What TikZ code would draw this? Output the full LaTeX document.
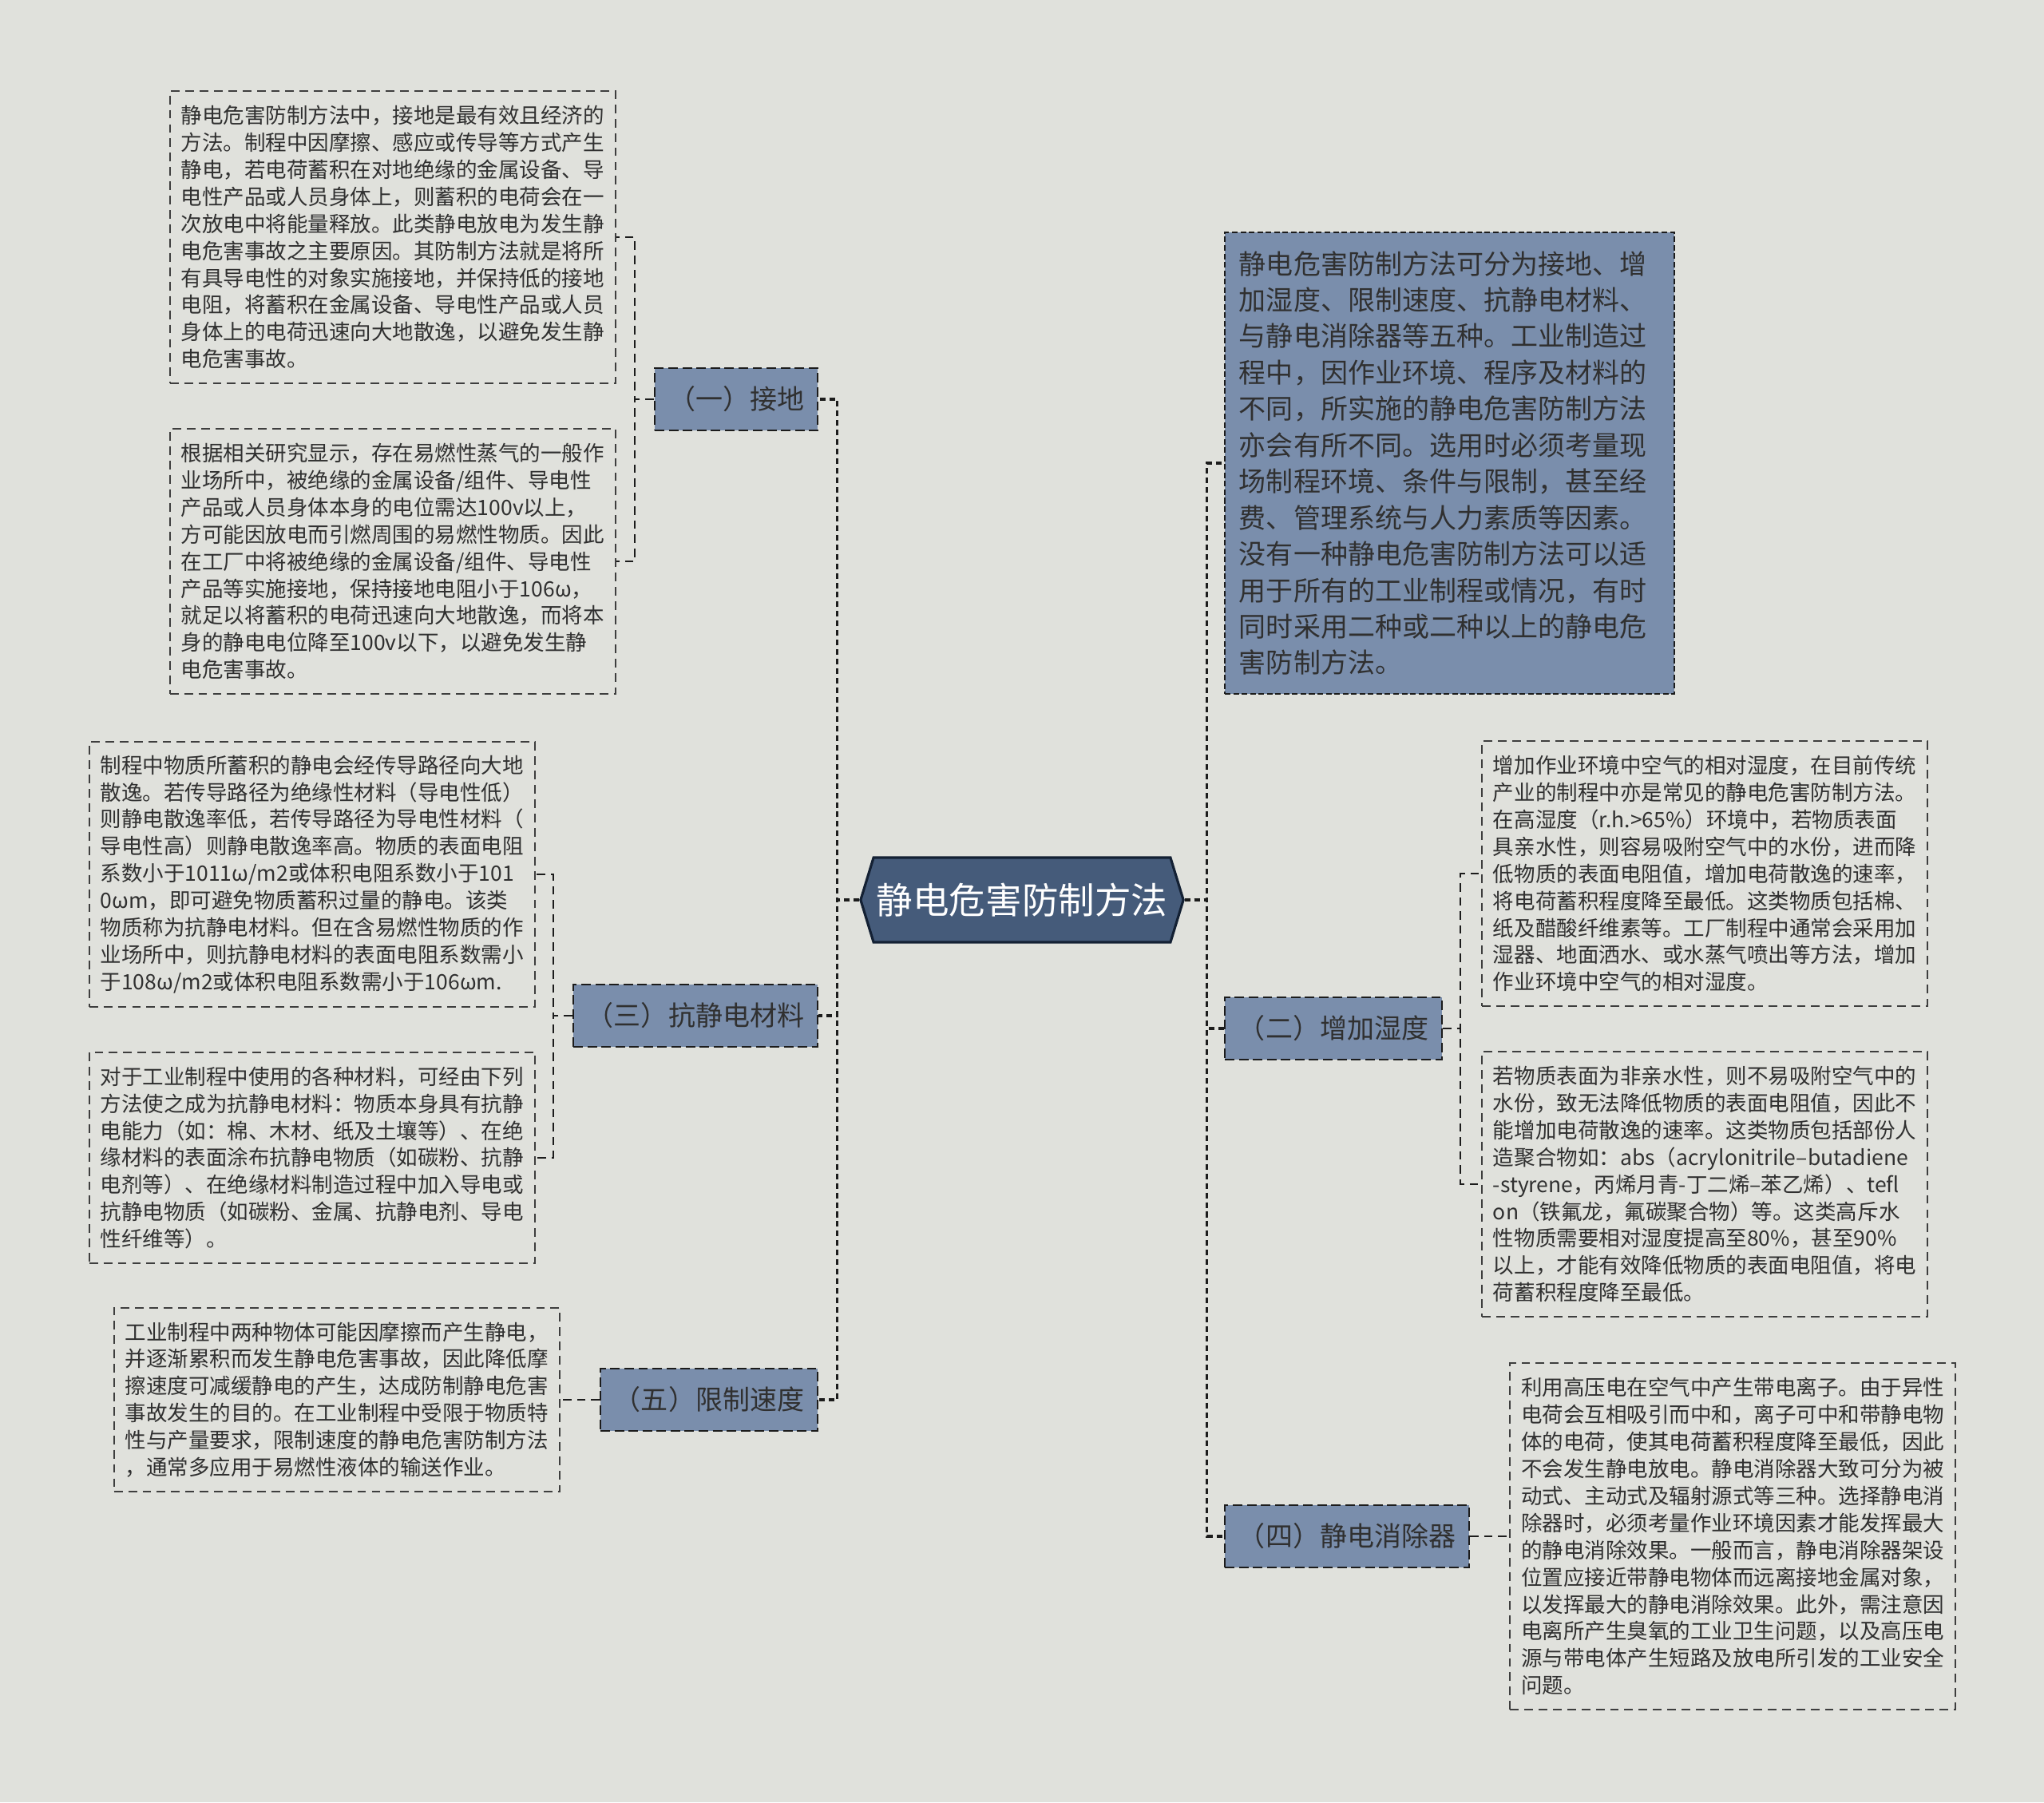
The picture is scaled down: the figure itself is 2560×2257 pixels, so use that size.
\documentclass[tikz,border=0pt]{standalone}
\usepackage{fontspec}
\newfontfamily\cjk{Noto Sans CJK SC}
\usetikzlibrary{positioning, shapes.symbols}

\definecolor{bgcol}{RGB}{224,225,220}
\definecolor{subfill}{RGB}{122,142,172}
\definecolor{rootfill}{RGB}{69,91,122}
\definecolor{rootline}{RGB}{20,33,52}
\definecolor{inkcol}{RGB}{28,28,28}
\definecolor{txtcol}{RGB}{48,48,48}
\hyphenpenalty=10000
\exhyphenpenalty=10000

\begin{document}
\begin{tikzpicture}[x=0.01cm, y=-0.01cm,
    rootnode/.style={signal, signal to=east and west, signal pointer angle=146,
      fill=rootfill, draw=rootline, line width=0.9pt, text=white,
      minimum width=4.04cm, minimum height=1.06cm, inner sep=0pt,
      font=\cjk\fontsize{12.95}{15}\selectfont},
    sub/.style={fill=subfill, draw=inkcol, line width=0.55pt, dash pattern=on 3.4pt off 1.6pt,
      text=txtcol, minimum height=0.78cm, inner xsep=0.17cm,
      font=\cjk\fontsize{9.67}{12}\selectfont},
    summary/.style={sub, text width=5.27cm, inner xsep=0.18cm, align=left,
      dash pattern=on 2pt off 1pt, font=\cjk\fontsize{9.67}{12.92}\selectfont},
    leaf/.style={draw=inkcol!85, line width=0.55pt, dash pattern=on 3.1pt off 2pt,
      text=txtcol, text width=5.30cm, inner xsep=0.14cm, align=left,
      font=\cjk\fontsize{7.54}{9.65}\selectfont},
    trunk/.style={draw=inkcol, line width=0.95pt, dash pattern=on 2pt off 1.4pt},
    twig/.style={draw=inkcol, line width=0.55pt, dash pattern=on 3pt off 2pt}]

  \fill[bgcol] (0,0) rectangle (2560,2257);

  \node[rootnode] (root) at (1280,1127) {静电危害防制方法};

  % left side
  \node[sub, anchor=east] (c1) at (1025,500) {（一）接地};
  \node[sub, anchor=east] (c3) at (1025,1272) {（三）抗静电材料};
  \node[sub, anchor=east] (c5) at (1025,1753) {（五）限制速度};

  % right side
  \node[summary, anchor=west, minimum height=5.77cm] (c0) at (1533,580) {静电危害防制方法可分为接地、增\\加湿度、限制速度、抗静电材料、\\与静电消除器等五种。工业制造过\\程中，因作业环境、程序及材料的\\不同，所实施的静电危害防制方法\\亦会有所不同。选用时必须考量现\\场制程环境、条件与限制，甚至经\\费、管理系统与人力素质等因素。\\没有一种静电危害防制方法可以适\\用于所有的工业制程或情况，有时\\同时采用二种或二种以上的静电危\\害防制方法。};
  \node[sub, anchor=west] (c2) at (1533,1288) {（二）增加湿度};
  \node[sub, anchor=west] (c4) at (1533,1924) {（四）静电消除器};

  \node[leaf, anchor=east, minimum height=3.66cm] (l1) at (772,297) {静电危害防制方法中，接地是最有效且经济的\\方法。制程中因摩擦、感应或传导等方式产生\\静电，若电荷蓄积在对地绝缘的金属设备、导\\电性产品或人员身体上，则蓄积的电荷会在一\\次放电中将能量释放。此类静电放电为发生静\\电危害事故之主要原因。其防制方法就是将所\\有具导电性的对象实施接地，并保持低的接地\\电阻，将蓄积在金属设备、导电性产品或人员\\身体上的电荷迅速向大地散逸，以避免发生静\\电危害事故。};
  \node[leaf, anchor=east, minimum height=3.32cm] (l2) at (772,703) {根据相关研究显示，存在易燃性蒸气的一般作\\业场所中，被绝缘的金属设备/组件、导电性\\产品或人员身体本身的电位需达100v以上，\\方可能因放电而引燃周围的易燃性物质。因此\\在工厂中将被绝缘的金属设备/组件、导电性\\产品等实施接地，保持接地电阻小于106ω，\\就足以将蓄积的电荷迅速向大地散逸，而将本\\身的静电电位降至100v以下，以避免发生静\\电危害事故。};
  \node[leaf, anchor=east, minimum height=3.31cm] (l3) at (671,1095) {制程中物质所蓄积的静电会经传导路径向大地\\散逸。若传导路径为绝缘性材料（导电性低）\\则静电散逸率低，若传导路径为导电性材料（\\导电性高）则静电散逸率高。物质的表面电阻\\系数小于1011ω/m2或体积电阻系数小于101\\0ωm，即可避免物质蓄积过量的静电。该类\\物质称为抗静电材料。但在含易燃性物质的作\\业场所中，则抗静电材料的表面电阻系数需小\\于108ω/m2或体积电阻系数需小于106ωm.};
  \node[leaf, anchor=east, minimum height=2.64cm] (l4) at (671,1450) {对于工业制程中使用的各种材料，可经由下列\\方法使之成为抗静电材料：物质本身具有抗静\\电能力（如：棉、木材、纸及土壤等）、在绝\\缘材料的表面涂布抗静电物质（如碳粉、抗静\\电剂等）、在绝缘材料制造过程中加入导电或\\抗静电物质（如碳粉、金属、抗静电剂、导电\\性纤维等）。};
  \node[leaf, minimum height=2.30cm] (l5) [left=0.49cm of c5] {工业制程中两种物体可能因摩擦而产生静电，\\并逐渐累积而发生静电危害事故，因此降低摩\\擦速度可减缓静电的产生，达成防制静电危害\\事故发生的目的。在工业制程中受限于物质特\\性与产量要求，限制速度的静电危害防制方法\\，通常多应用于易燃性液体的输送作业。};

  \node[leaf, anchor=west, minimum height=3.31cm] (r1) at (1855,1094) {增加作业环境中空气的相对湿度，在目前传统\\产业的制程中亦是常见的静电危害防制方法。\\在高湿度（r.h.>65\%）环境中，若物质表面\\具亲水性，则容易吸附空气中的水份，进而降\\低物质的表面电阻值，增加电荷散逸的速率，\\将电荷蓄积程度降至最低。这类物质包括棉、\\纸及醋酸纤维素等。工厂制程中通常会采用加\\湿器、地面洒水、或水蒸气喷出等方法，增加\\作业环境中空气的相对湿度。};
  \node[leaf, anchor=west, minimum height=3.31cm] (r2) at (1855,1483) {若物质表面为非亲水性，则不易吸附空气中的\\水份，致无法降低物质的表面电阻值，因此不\\能增加电荷散逸的速率。这类物质包括部份人\\造聚合物如：abs（acrylonitrile–butadiene\\-styrene，丙烯月青-丁二烯–苯乙烯）、tefl\\on（铁氟龙，氟碳聚合物）等。这类高斥水\\性物质需要相对湿度提高至80\%，甚至90\%\\以上，才能有效降低物质的表面电阻值，将电\\荷蓄积程度降至最低。};
  \node[leaf, minimum height=4.33cm] (r3) [right=0.49cm of c4] {利用高压电在空气中产生带电离子。由于异性\\电荷会互相吸引而中和，离子可中和带静电物\\体的电荷，使其电荷蓄积程度降至最低，因此\\不会发生静电放电。静电消除器大致可分为被\\动式、主动式及辐射源式等三种。选择静电消\\除器时，必须考量作业环境因素才能发挥最大\\的静电消除效果。一般而言，静电消除器架设\\位置应接近带静电物体而远离接地金属对象，\\以发挥最大的静电消除效果。此外，需注意因\\电离所产生臭氧的工业卫生问题，以及高压电\\源与带电体产生短路及放电所引发的工业安全\\问题。};

  \draw[trunk] (root.west) -- ++(-28,0) |- (c1.east);
  \draw[trunk] (root.west) -- ++(-28,0) |- (c3.east);
  \draw[trunk] (root.west) -- ++(-28,0) |- (c5.east);
  \draw[trunk] (root.east) -- ++(28,0) |- (c0.west);
  \draw[trunk] (root.east) -- ++(28,0) |- (c2.west);
  \draw[trunk] (root.east) -- ++(28,0) |- (c4.west);

  \draw[twig] (c1.west) -- ++(-24,0) |- (l1.east);
  \draw[twig] (c1.west) -- ++(-24,0) |- (l2.east);
  \draw[twig] (c3.west) -- ++(-24,0) |- (l3.east);
  \draw[twig] (c3.west) -- ++(-24,0) |- (l4.east);
  \draw[twig] (c5.west) -- (l5.east);
  \draw[twig] (c2.east) -- ++(22,0) |- (r1.west);
  \draw[twig] (c2.east) -- ++(22,0) |- (r2.west);
  \draw[twig] (c4.east) -- (r3.west);
\end{tikzpicture}
\end{document}
